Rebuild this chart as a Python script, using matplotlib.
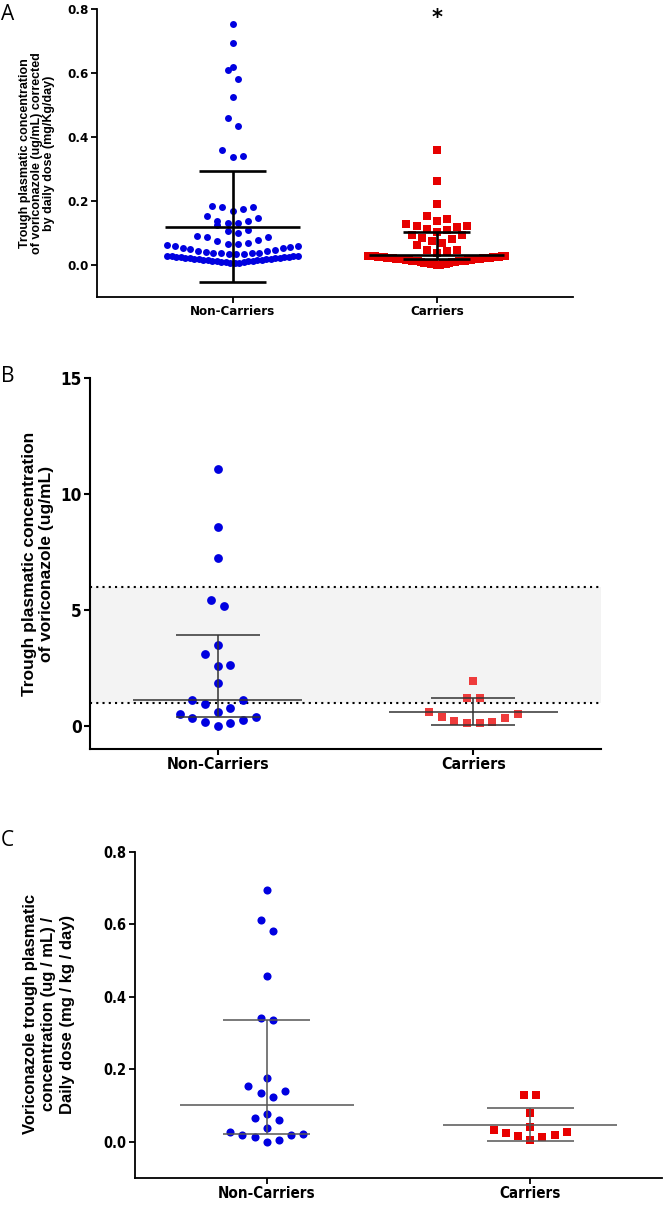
import numpy as np
import matplotlib
matplotlib.use('Agg')
import matplotlib.pyplot as plt
from matplotlib import font_manager

# ---- data ----
groups = ['Non-Carriers', 'Carriers']

# A: concentration corrected by daily dose (all patients)
a_non = [0.754, 0.694, 0.618, 0.608, 0.581, 0.524, 0.458, 0.433, 0.360, 0.342, 0.336,
         0.183, 0.181, 0.181, 0.176, 0.170,
         0.154, 0.146, 0.138, 0.138, 0.131, 0.131,
         0.124, 0.110, 0.105, 0.100,
         0.092, 0.088, 0.087, 0.079, 0.074, 0.069, 0.067, 0.065,
         0.061, 0.060, 0.058, 0.056, 0.053, 0.052, 0.050, 0.048, 0.045, 0.043,
         0.041, 0.039, 0.037, 0.037, 0.036, 0.035, 0.035, 0.034,
         0.028, 0.028, 0.027, 0.027, 0.026, 0.025, 0.024, 0.024, 0.023, 0.022,
         0.021, 0.021, 0.020, 0.019, 0.019, 0.018, 0.017, 0.016, 0.016, 0.015,
         0.014, 0.013, 0.012, 0.011, 0.010, 0.009, 0.008, 0.007, 0.006, 0.005]
a_car = [0.360, 0.264, 0.190, 0.152, 0.144, 0.136, 0.129, 0.121, 0.121, 0.119,
         0.113, 0.108, 0.102, 0.095, 0.095, 0.084, 0.081, 0.074, 0.069, 0.063,
         0.048, 0.048, 0.043, 0.039,
         0.028, 0.028, 0.027, 0.027, 0.027, 0.026, 0.026, 0.025, 0.025, 0.024,
         0.024, 0.023, 0.023, 0.022, 0.022, 0.021, 0.021, 0.020, 0.020, 0.019,
         0.019, 0.018, 0.018, 0.017, 0.016, 0.016, 0.015, 0.014, 0.014, 0.013,
         0.012, 0.011, 0.011, 0.010, 0.009, 0.008, 0.007, 0.006, 0.005, 0.004,
         0.003, 0.002, 0.002, 0.001, 0.000]
a_stats = {'Non-Carriers': (0.120, 0.293, -0.054), 'Carriers': (0.032, 0.104, 0.019)}

# B: trough concentration
b_non = [11.08, 8.59, 7.25, 5.44, 5.17, 3.48, 3.09, 2.63, 2.58, 1.85, 1.11, 1.11,
         0.93, 0.76, 0.60, 0.49, 0.39, 0.32, 0.25, 0.15, 0.10, 0.0]
b_car = [1.94, 1.21, 1.18, 0.59, 0.52, 0.37, 0.35, 0.22, 0.16, 0.12, 0.12]
b_stats = {'Non-Carriers': (1.11, 3.92, 0.37), 'Carriers': (0.60, 1.19, 0.03)}
b_range = (1, 6)

# C: concentration / daily dose
c_non = [0.694, 0.611, 0.581, 0.459, 0.342, 0.336, 0.176, 0.155, 0.139, 0.136, 0.124,
         0.077, 0.066, 0.060, 0.038, 0.026, 0.021, 0.019, 0.019, 0.014, 0.006, 0.0]
c_car = [0.130, 0.130, 0.080, 0.041, 0.032, 0.028, 0.023, 0.019, 0.016, 0.013, 0.006]
c_stats = {'Non-Carriers': (0.101, 0.337, 0.021), 'Carriers': (0.047, 0.092, 0.003)}

a_yticks = [0.0, 0.2, 0.4, 0.6, 0.8]
b_yticks = [0, 5, 10, 15]
c_yticks = [0.0, 0.2, 0.4, 0.6, 0.8]

# narrow bold font for ticks if one is installed
fonts = font_manager.fontManager.ttflist
if any(f.name == 'Liberation Sans Narrow' for f in fonts):
    tick_font = dict(fontfamily='Liberation Sans Narrow')
    shrink = 1.0
elif any(f.name == 'DejaVu Sans' and f.stretch == 'condensed' for f in fonts):
    tick_font = dict(fontfamily='DejaVu Sans', fontstretch='condensed')
    shrink = 0.95
else:
    tick_font = dict(fontfamily='Liberation Sans')
    shrink = 0.9
plain = 'Liberation Sans'

W, H = 663, 1205
fig = plt.figure(figsize=(W / 100, H / 100), dpi=100)


def box(l, t, r, b):
    return fig.add_axes([l / W, 1 - b / H, (r - l) / W, (b - t) / H])


def swarm(ax, vals, center, slot_px, row_px, max_half):
    # GraphPad-like scatter: points binned in rows, spread left/right
    vals = np.asarray(vals, float)
    x0, x1 = ax.get_xlim()
    y0, y1 = ax.get_ylim()
    ppx = ax.bbox.width / (x1 - x0)
    ppy = ax.bbox.height / (y1 - y0)
    step = slot_px / ppx
    rowh = row_px / ppy
    order = np.argsort(vals, kind='stable')
    rows, cur = [], []
    for i in order:
        if cur and vals[i] - vals[cur[0]] > rowh:
            rows.append(cur)
            cur = []
        cur.append(i)
    rows.append(cur)
    xs = np.full(len(vals), float(center))
    for row in rows:
        n = len(row)
        s = step if n == 1 else min(step, 2 * max_half / (n - 1))
        offs = []
        if n % 2:
            offs.append(0.0)
            k = 1.0
        else:
            k = 0.5
        while len(offs) < n:
            offs += [k, -k]
            k += 1
        for i, o in zip(row, offs[:n]):
            xs[i] = center + o * s
    return xs


def stats(ax, x, st, color, lw, wide=0.33, cap=0.165):
    mid, hi, lo = st
    ax.hlines(mid, x - wide, x + wide, color=color, lw=lw, zorder=5)
    ax.hlines([hi, lo], x - cap, x + cap, color=color, lw=lw, zorder=5)
    ax.vlines(x, lo, hi, color=color, lw=lw, zorder=5)


def style(ax, yticks, fmt, ysize, xsize, spine_lw):
    for s in ['top', 'right']:
        ax.spines[s].set_visible(False)
    for s in ['left', 'bottom']:
        ax.spines[s].set_linewidth(spine_lw)
    ax.set_xticks([0, 1])
    ax.set_xticklabels(groups, fontweight='bold', fontsize=xsize * shrink, **tick_font)
    ax.set_yticks(yticks)
    ax.set_yticklabels([fmt.format(v) for v in yticks], fontweight='bold',
                       fontsize=ysize * shrink, **tick_font)
    ax.tick_params(direction='out', length=4, width=spine_lw, pad=2)


blue = '#0000e0'

# ---- panel A ----
axA = box(97, 9, 573, 297)
axA.set_xlim(-0.664, 1.667)
axA.set_ylim(-0.1, 0.8)
xa = swarm(axA, a_non, 0, 10.1, 9, 0.32)
axA.scatter(xa, a_non, s=25, marker='o', color=blue, lw=0, zorder=3)
xc = swarm(axA, a_car, 1, 10.1, 9, 0.335)
axA.scatter(xc, a_car, s=28, marker='s', color='#e60000', lw=0, zorder=3)
for i, g in enumerate(groups):
    stats(axA, i, a_stats[g], 'black', 1.9)
axA.text(1, 0.772, '*', ha='center', va='center', fontsize=15, fontweight='bold')
style(axA, a_yticks, '{:.1f}', 10, 10, 1.3)
fig.text(37 / W, 1 - 153 / H,
         'Trough plasmatic concentration\nof voriconazole (ug/mL) corrected\nby daily dose (mg/Kg/day)',
         rotation=90, ha='center', va='center', multialignment='center',
         fontfamily=plain, fontweight='bold', fontsize=9, linespacing=1.05)

# ---- panel B ----
axB = box(90, 378, 601, 749)
axB.set_xlim(-0.5, 1.5)
axB.set_ylim(-1, 15)
axB.axhspan(b_range[0], b_range[1], color='#f3f3f3', lw=0, zorder=0)
for v in b_range:
    axB.axhline(v, color='black', lw=1.5, ls=(0, (1, 2)), zorder=1)
xb = swarm(axB, b_non, 0, 12.7, 12.7, 1.0)
axB.scatter(xb, b_non, s=40, marker='o', color=blue, lw=0, zorder=3)
xb2 = swarm(axB, b_car, 1, 12.7, 12.7, 1.0)
axB.scatter(xb2, b_car, s=38, marker='s', color='#ee3b3b', lw=0, zorder=3)
for i, g in enumerate(groups):
    stats(axB, i, b_stats[g], '#333333', 1.1)
style(axB, b_yticks, '{:d}', 13, 12, 1.5)
fig.text(38 / W, 1 - 564 / H,
         'Trough plasmatic concentration\nof voriconazole (ug/mL)',
         rotation=90, ha='center', va='center', multialignment='center',
         fontfamily=plain, fontweight='bold', fontsize=12.5, linespacing=1.1)

# ---- panel C ----
axC = box(135, 852, 662, 1178)
axC.set_xlim(-0.5, 1.5)
axC.set_ylim(-0.1, 0.8)
xn = swarm(axC, c_non, 0, 12.2, 12.2, 1.0)
axC.scatter(xn, c_non, s=34, marker='o', color=blue, lw=0, zorder=3)
xk = swarm(axC, c_car, 1, 12.2, 12.2, 1.0)
axC.scatter(xk, c_car, s=30, marker='s', color='#e80000', lw=0, zorder=3)
for i, g in enumerate(groups):
    stats(axC, i, c_stats[g], '#555555', 1.1)
style(axC, c_yticks, '{:.1f}', 11, 11.5, 1.3)
fig.text(49 / W, 1 - 1014 / H,
         'Voriconazole trough plasmatic\nconcentration (ug / mL) /\nDaily dose (mg / kg / day)',
         rotation=90, ha='center', va='center', multialignment='center',
         fontfamily=plain, fontweight='bold', fontsize=12, linespacing=1.3)

# panel letters
for lab, y in [('A', 14), ('B', 376), ('C', 840)]:
    fig.text(1 / W, 1 - y / H, lab, ha='left', va='center', fontsize=15,
             fontfamily='Open Sans')

fig.savefig('out.png', dpi=100)
